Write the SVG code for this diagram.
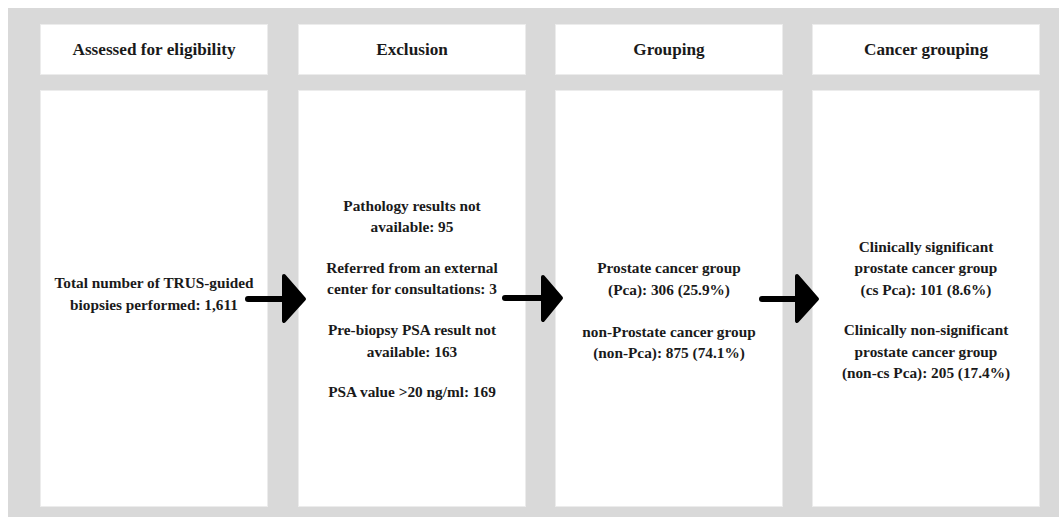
<svg xmlns="http://www.w3.org/2000/svg" width="1059" height="517" viewBox="0 0 1059 517">
<style>
.bg{fill:#d9d9d9}
.box{fill:#ffffff;stroke:#ececec;stroke-width:1}
text{font-family:"Liberation Serif","Times New Roman",serif;font-weight:bold;font-size:15.3px;fill:#1a1a1a;text-anchor:middle}
text.hd{font-size:17.2px}
.shaft{stroke:#000;stroke-width:6;stroke-linecap:round;fill:none}
.head{fill:#000;stroke:#000;stroke-width:4;stroke-linejoin:round}
</style>
<rect class="bg" x="8" y="8" width="1051" height="509"/>
<g id="col1">
<rect class="box" x="40.5" y="24.5" width="227" height="50"/>
<text class="hd" x="154" y="55">Assessed for eligibility</text>
<rect class="box" x="40.5" y="90.5" width="227" height="416"/>
<text x="154" y="288">Total number of TRUS-guided</text>
<text x="154" y="310">biopsies performed: 1,611</text>
</g>
<g id="col2">
<rect class="box" x="298.5" y="24.5" width="227" height="50"/>
<text class="hd" x="412" y="55">Exclusion</text>
<rect class="box" x="298.5" y="90.5" width="227" height="416"/>
<text x="412" y="211">Pathology results not</text>
<text x="412" y="232">available: 95</text>
<text x="412" y="273">Referred from an external</text>
<text x="412" y="294">center for consultations: 3</text>
<text x="412" y="335">Pre-biopsy PSA result not</text>
<text x="412" y="357">available: 163</text>
<text x="412" y="397">PSA value &gt;20 ng/ml: 169</text>
</g>
<g id="col3">
<rect class="box" x="555.5" y="24.5" width="227" height="50"/>
<text class="hd" x="669" y="55">Grouping</text>
<rect class="box" x="555.5" y="90.5" width="227" height="416"/>
<text x="669" y="273">Prostate cancer group</text>
<text x="669" y="295">(Pca): 306 (25.9%)</text>
<text x="669" y="337">non-Prostate cancer group</text>
<text x="669" y="358">(non-Pca): 875 (74.1%)</text>
</g>
<g id="col4">
<rect class="box" x="812.5" y="24.5" width="227" height="50"/>
<text class="hd" x="926" y="55">Cancer grouping</text>
<rect class="box" x="812.5" y="90.5" width="227" height="416"/>
<text x="926" y="252">Clinically significant</text>
<text x="926" y="273">prostate cancer group</text>
<text x="926" y="295">(cs Pca): 101 (8.6%)</text>
<text x="926" y="335">Clinically non-significant</text>
<text x="926" y="357">prostate cancer group</text>
<text x="926" y="378">(non-cs Pca): 205 (17.4%)</text>
</g>
<g id="connectors">
<line class="shaft" x1="248" y1="299" x2="286" y2="299"/>
<polygon class="head" points="284,276 304,299 284,321"/>
<line class="shaft" x1="505" y1="298" x2="545" y2="298"/>
<polygon class="head" points="543,277 561,298 543,320"/>
<line class="shaft" x1="762" y1="299" x2="799" y2="299"/>
<polygon class="head" points="797,276 817,299 797,321"/>
</g>
</svg>
